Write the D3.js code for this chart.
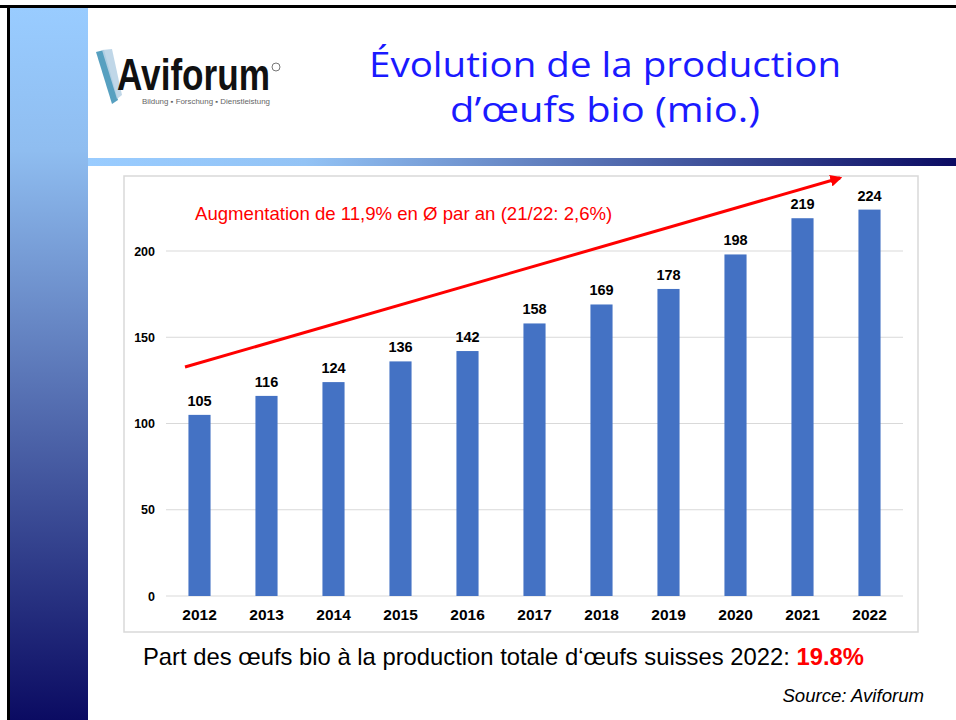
<!DOCTYPE html>
<html>
<head>
<meta charset="utf-8">
<script src="https://cdn.jsdelivr.net/npm/d3@7"></script>
<style>
  body { margin: 0; background: #fff; }
  svg { display: block; }
</style>
</head>
<body>
<svg width="956" height="720"></svg>
<script>
// data
var years = ["2012","2013","2014","2015","2016","2017","2018","2019","2020","2021","2022"];
var values = [105, 116, 124, 136, 142, 158, 169, 178, 198, 219, 224];
var yTicks = [0, 50, 100, 150, 200];

var svg = d3.select("svg");
var defs = svg.append("defs");

// slide decoration
var vg = defs.append("linearGradient").attr("id", "vgrad")
    .attr("x1", 0).attr("y1", 0).attr("x2", 0).attr("y2", 1);
vg.append("stop").attr("offset", "0%").attr("stop-color", "#99ccff");
vg.append("stop").attr("offset", "20%").attr("stop-color", "#8fbdf0");
vg.append("stop").attr("offset", "100%").attr("stop-color", "#0b0b62");

var hg = defs.append("linearGradient").attr("id", "hgrad")
    .attr("x1", 0).attr("y1", 0).attr("x2", 1).attr("y2", 0);
hg.append("stop").attr("offset", "0%").attr("stop-color", "#99ccff");
hg.append("stop").attr("offset", "25%").attr("stop-color", "#93c3f5");
hg.append("stop").attr("offset", "100%").attr("stop-color", "#0b0b62");

svg.append("rect").attr("x", 10).attr("y", 8).attr("width", 78).attr("height", 712)
    .attr("fill", "url(#vgrad)");
svg.append("rect").attr("x", 88).attr("y", 158).attr("width", 868).attr("height", 8)
    .attr("fill", "url(#hgrad)");
svg.append("rect").attr("x", 0).attr("y", 5).attr("width", 956).attr("height", 3).attr("fill", "#000");
svg.append("rect").attr("x", 7).attr("y", 5).attr("width", 3).attr("height", 715).attr("fill", "#000");

// logo
var logo = svg.append("g");
logo.append("path")
    .attr("d", "M96,52 L104,50 L118,100 L112,104 Z")
    .attr("fill", "#3a8fb5").attr("opacity", 0.85);
logo.append("path")
    .attr("d", "M102,50 L112,49 L122,95 L117,99 Z")
    .attr("fill", "#b9d3e6").attr("opacity", 0.9);
logo.append("text").attr("x", 117).attr("y", 90)
    .attr("font-family", "Liberation Sans, Arial, sans-serif")
    .attr("font-weight", "bold").attr("font-size", 44)
    .attr("textLength", 153).attr("lengthAdjust", "spacingAndGlyphs")
    .attr("fill", "#111").text("Aviforum");
logo.append("circle").attr("cx", 276).attr("cy", 67).attr("r", 4)
    .attr("fill", "none").attr("stroke", "#777").attr("stroke-width", 1);
logo.append("text").attr("x", 142).attr("y", 104)
    .attr("font-family", "Liberation Sans, Arial, sans-serif")
    .attr("font-size", 7).attr("fill", "#666")
    .attr("textLength", 128).attr("lengthAdjust", "spacingAndGlyphs")
    .text("Bildung \u25AA Forschung \u25AA Dienstleistung");

// title
var title = svg.append("text")
    .attr("font-family", "Open Sans, sans-serif")
    .attr("font-weight", 400)
    .attr("font-size", 34).attr("fill", "#1a1aff").attr("text-anchor", "middle");
title.append("tspan").attr("x", 605).attr("y", 77)
    .attr("textLength", 472).attr("lengthAdjust", "spacingAndGlyphs")
    .text("Évolution de la production");
title.append("tspan").attr("x", 605).attr("y", 122)
    .attr("textLength", 310).attr("lengthAdjust", "spacingAndGlyphs")
    .text("d\u2019œufs bio (mio.)");

// chart frame
svg.append("rect").attr("x", 124).attr("y", 176).attr("width", 794).attr("height", 456)
    .attr("fill", "#fff").attr("stroke", "#d9d9d9").attr("stroke-width", 1.5);

var margin = {left: 166, right: 903, top: 251, bottom: 596};
var x = d3.scaleBand().domain(years).range([margin.left, margin.right]).paddingInner(0.67).paddingOuter(0.335);
var y = d3.scaleLinear().domain([0, 200]).range([margin.bottom, margin.top]);

var g = svg.append("g");

// grid
g.selectAll(".grid").data(yTicks).enter().append("line")
    .attr("x1", margin.left).attr("x2", margin.right)
    .attr("y1", function(d) { return y(d); }).attr("y2", function(d) { return y(d); })
    .attr("stroke", "#d9d9d9").attr("stroke-width", 1);

// y axis labels
var yAxis = g.append("g").attr("transform", "translate(" + (margin.left - 11) + ",0)")
    .call(d3.axisLeft(y).tickValues(yTicks).tickSize(0).tickPadding(0));
yAxis.select(".domain").remove();
yAxis.selectAll("text")
    .attr("font-family", "Liberation Sans, Arial, sans-serif")
    .attr("font-weight", "bold").attr("font-size", 12.5).attr("fill", "#000");

// x axis labels
var xAxis = g.append("g").attr("transform", "translate(0," + margin.bottom + ")")
    .call(d3.axisBottom(x).tickSize(0).tickPadding(13));
xAxis.select(".domain").remove();
xAxis.selectAll("text")
    .attr("font-family", "Liberation Sans, Arial, sans-serif")
    .attr("font-weight", "bold").attr("font-size", 15.5).attr("fill", "#000");

// bars
var data = years.map(function(yr, i) { return {year: yr, value: values[i]}; });
g.selectAll(".bar").data(data).enter().append("rect")
    .attr("class", "bar")
    .attr("x", function(d) { return x(d.year); })
    .attr("y", function(d) { return y(d.value); })
    .attr("width", x.bandwidth())
    .attr("height", function(d) { return y(0) - y(d.value); })
    .attr("fill", "#4472c4");

g.selectAll(".lbl").data(data).enter().append("text")
    .attr("x", function(d) { return x(d.year) + x.bandwidth() / 2; })
    .attr("y", function(d) { return y(d.value) - 9; })
    .attr("text-anchor", "middle")
    .attr("font-family", "Liberation Sans, Arial, sans-serif")
    .attr("font-weight", "bold").attr("font-size", 14.5).attr("fill", "#000")
    .text(function(d) { return d.value; });

// trend arrow
defs.append("marker").attr("id", "arrow").attr("viewBox", "0 0 10 10")
    .attr("refX", 8).attr("refY", 5).attr("markerWidth", 4).attr("markerHeight", 4)
    .attr("orient", "auto")
  .append("path").attr("d", "M0,0 L10,5 L0,10 Z").attr("fill", "#ff0000");
svg.append("line").attr("x1", 185).attr("y1", 367).attr("x2", 840).attr("y2", 178)
    .attr("stroke", "#ff0000").attr("stroke-width", 3).attr("marker-end", "url(#arrow)");

svg.append("text").attr("x", 195).attr("y", 220)
    .attr("font-family", "Liberation Sans, Arial, sans-serif")
    .attr("font-size", 18.6).attr("fill", "#ff0000")
    .text("Augmentation de 11,9% en Ø par an (21/22: 2,6%)");

// footer
var foot = svg.append("text").attr("x", 143).attr("y", 665)
    .attr("font-family", "Liberation Sans, Arial, sans-serif")
    .attr("font-size", 23.8).attr("fill", "#000");
foot.append("tspan").text("Part des œufs bio à la production totale d\u2018œufs suisses 2022: ");
foot.append("tspan").attr("font-weight", "bold").attr("fill", "#ff0000").text("19.8%");

svg.append("text").attr("x", 924).attr("y", 702).attr("text-anchor", "end")
    .attr("font-family", "Liberation Sans, Arial, sans-serif")
    .attr("font-style", "italic").attr("font-size", 18.6).attr("fill", "#000")
    .text("Source: Aviforum");
</script>
</body>
</html>
